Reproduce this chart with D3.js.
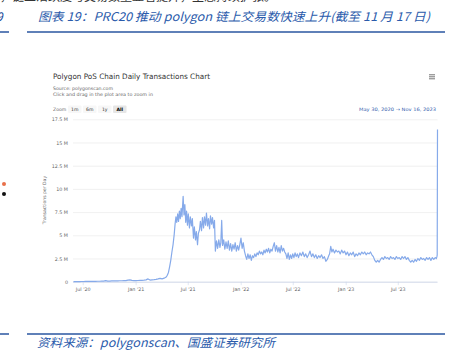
<!DOCTYPE html>
<html><head><meta charset="utf-8">
<script src="https://cdn.jsdelivr.net/npm/d3@7"></script>
<style>html,body{margin:0;padding:0;background:#fff;} svg{display:block}</style>
</head><body><svg id="c" width="451" height="357"></svg>
<script>
// ---------- data ----------
const dates = [
"2020-05-30","2020-06-06","2020-06-13","2020-06-20","2020-06-27","2020-07-04","2020-07-11","2020-07-18","2020-07-25",
"2020-08-01","2020-08-08","2020-08-15","2020-08-22","2020-08-29","2020-09-05","2020-09-12","2020-09-19","2020-09-26",
"2020-10-03","2020-10-10","2020-10-17","2020-10-24","2020-10-31","2020-11-07","2020-11-14","2020-11-21","2020-11-28",
"2020-12-05","2020-12-12","2020-12-19","2020-12-26",
"2021-01-02","2021-01-09","2021-01-16","2021-01-23","2021-01-30","2021-02-06","2021-02-13","2021-02-20","2021-02-27",
"2021-03-06","2021-03-13","2021-03-20","2021-03-27","2021-04-03","2021-04-10","2021-04-17","2021-04-21","2021-04-25",
"2021-04-29","2021-05-03","2021-05-07","2021-05-11","2021-05-15","2021-05-18","2021-05-21","2021-05-24","2021-05-27",
"2021-05-30","2021-06-02","2021-06-05","2021-06-08","2021-06-11","2021-06-15","2021-06-18","2021-06-21","2021-06-24",
"2021-06-27","2021-06-30","2021-07-03","2021-07-07","2021-07-10","2021-07-14","2021-07-17","2021-07-21","2021-07-24",
"2021-07-28","2021-07-31","2021-08-04","2021-08-07","2021-08-11","2021-08-14","2021-08-18","2021-08-21","2021-08-25",
"2021-08-28","2021-09-01","2021-09-04","2021-09-08","2021-09-11","2021-09-15","2021-09-18","2021-09-22","2021-09-25",
"2021-09-29","2021-10-02","2021-10-05","2021-10-09","2021-10-13","2021-10-17","2021-10-21","2021-10-24","2021-10-27",
"2021-10-30","2021-11-03","2021-11-07","2021-11-11","2021-11-15","2021-11-19","2021-11-23","2021-11-27","2021-12-01",
"2021-12-05","2021-12-09","2021-12-13","2021-12-17","2021-12-21","2021-12-25","2021-12-29",
"2022-01-02","2022-01-06","2022-01-10","2022-01-14","2022-01-18","2022-01-22","2022-01-26","2022-01-30","2022-02-03",
"2022-02-07","2022-02-11","2022-02-15","2022-02-19","2022-02-23","2022-02-27","2022-03-03","2022-03-07","2022-03-11",
"2022-03-15","2022-03-19","2022-03-23","2022-03-27","2022-03-31","2022-04-04","2022-04-08","2022-04-12","2022-04-16",
"2022-04-20","2022-04-24","2022-04-28","2022-05-02","2022-05-06","2022-05-10","2022-05-14","2022-05-18","2022-05-22",
"2022-05-26","2022-05-30","2022-06-03","2022-06-07","2022-06-11","2022-06-15","2022-06-19","2022-06-23","2022-06-27",
"2022-07-01","2022-07-05","2022-07-09","2022-07-13","2022-07-17","2022-07-21","2022-07-26","2022-07-31","2022-08-05",
"2022-08-10","2022-08-15","2022-08-20","2022-08-25","2022-08-30","2022-09-04","2022-09-09","2022-09-14","2022-09-19",
"2022-09-24","2022-09-29","2022-10-04","2022-10-09","2022-10-14","2022-10-19","2022-10-24","2022-10-29","2022-11-03",
"2022-11-06","2022-11-10","2022-11-14","2022-11-18","2022-11-23","2022-11-28","2022-12-03","2022-12-08","2022-12-13",
"2022-12-18","2022-12-23","2022-12-28",
"2023-01-02","2023-01-07","2023-01-12","2023-01-17","2023-01-22","2023-01-27","2023-02-01","2023-02-06","2023-02-11",
"2023-02-16","2023-02-21","2023-02-26","2023-03-03","2023-03-08","2023-03-13","2023-03-18","2023-03-23","2023-03-28",
"2023-04-02","2023-04-07","2023-04-12","2023-04-17","2023-04-22","2023-04-27","2023-05-02","2023-05-07","2023-05-12",
"2023-05-17","2023-05-22","2023-05-27","2023-06-01","2023-06-06","2023-06-11","2023-06-16","2023-06-21","2023-06-26",
"2023-07-01","2023-07-06","2023-07-11","2023-07-16","2023-07-21","2023-07-26","2023-07-31","2023-08-05","2023-08-10",
"2023-08-15","2023-08-20","2023-08-25","2023-08-30","2023-09-04","2023-09-09","2023-09-14","2023-09-19","2023-09-24",
"2023-09-29","2023-10-04","2023-10-09","2023-10-14","2023-10-19","2023-10-24","2023-10-29","2023-11-03","2023-11-08",
"2023-11-12","2023-11-14","2023-11-15","2023-11-16"
];
// daily transactions, millions
const values = [
0.005,0.01,0.01,0.015,0.02,0.02,0.025,0.03,0.03,
0.035,0.04,0.04,0.05,0.05,0.06,0.07,0.12,0.06,
0.07,0.08,0.08,0.09,0.09,0.1,0.1,0.11,0.12,
0.17,0.19,0.14,0.12,
0.12,0.13,0.15,0.14,0.16,0.2,0.3,0.18,0.2,
0.22,0.25,0.3,0.36,0.3,0.38,0.5,0.7,1.0,
1.6,2.3,3.2,4.0,5.1,6.2,7.0,6.4,7.3,
6.5,7.6,6.8,7.9,7.0,9.2,7.2,8.3,6.4,
7.6,6.1,7.3,5.8,7.0,6.0,6.8,4.7,5.9,
4.5,5.4,4.0,5.2,5.6,6.5,5.5,6.9,5.8,
7.0,6.1,7.4,6.0,6.8,5.7,7.1,6.2,6.9,
5.8,6.6,3.3,4.4,3.6,4.5,3.7,4.2,6.6,
3.9,4.5,3.5,4.3,3.6,4.4,3.4,4.1,3.3,
4.0,3.5,4.2,3.3,3.9,3.4,4.0,
4.7,3.6,4.2,3.3,2.8,2.4,3.0,2.5,2.9,
2.3,2.8,2.6,3.0,2.7,3.1,2.9,3.3,3.0,
3.2,2.9,3.4,3.1,3.5,3.2,3.6,3.1,3.5,
3.3,3.8,4.2,3.3,3.9,3.2,3.7,3.1,3.9,
3.3,3.6,3.2,3.0,2.5,3.1,2.4,2.9,2.5,
3.0,2.6,3.1,2.7,3.0,2.6,3.1,2.8,3.2,
2.7,3.0,2.6,2.9,3.3,2.7,3.0,2.6,2.9,
2.5,2.8,2.6,2.9,2.5,2.7,2.2,2.4,2.8,
3.0,3.8,3.2,3.5,3.1,3.4,3.2,3.3,3.0,
3.4,3.1,3.3,
2.9,3.2,2.8,3.1,2.9,3.2,2.7,3.0,2.8,
3.1,2.9,3.2,3.0,3.2,2.9,3.1,3.0,3.2,
2.9,2.7,2.3,2.1,2.3,2.1,2.4,2.6,2.4,
2.7,2.5,2.6,2.4,2.7,2.5,2.6,2.4,2.7,
2.5,2.6,2.4,2.7,2.5,2.7,2.4,2.6,2.3,
2.1,2.3,2.1,2.4,2.2,2.5,2.3,2.6,2.4,
2.5,2.3,2.6,2.4,2.6,2.3,2.6,2.4,2.6,
2.5,2.7,2.9,16.4
];
const yTicks = [0,2.5,5,7.5,10,12.5,15,17.5];
const yTickLabels = ["0","2.5 M","5 M","7.5 M","10 M","12.5 M","15 M","17.5 M"];
const xTicks = ["2020-07-01","2021-01-01","2021-07-01","2022-01-01","2022-07-01","2023-01-01","2023-07-01"];
const xTickLabels = ["Jul '20","Jan '21","Jul '21","Jan '22","Jul '22","Jan '23","Jul '23"];
const zoomButtons = ["1m","6m","1y","All"];
const rangeStart = "2020-05-30", rangeEnd = "2023-11-16";

// ---------- drawing ----------
const svg = d3.select("#c");
const HC = "'DejaVu Sans', Verdana, sans-serif";
const CJK = "'Noto Sans CJK SC', sans-serif";
const parse = d3.utcParse("%Y-%m-%d");
const data = dates.map((d,i)=>({date:parse(d), v:values[i]}));

// report page decorations
svg.append("text").attr("x",0).attr("y",1).attr("font-family",CJK).attr("font-size",12).attr("fill","#333")
  .text("，链上活跃度与交易数量显著提升，生态持续扩张。");
svg.append("text").attr("x",-4).attr("y",21).attr("font-family",CJK).attr("font-size",12)
  .attr("font-style","italic").attr("fill","#1f4e9c").text("9");
svg.append("line").attr("x1",0).attr("x2",9).attr("y1",32).attr("y2",32).attr("stroke","#2a56a0").attr("stroke-width",1.5);
svg.append("line").attr("x1",27).attr("x2",445).attr("y1",32).attr("y2",32).attr("stroke","#2a56a0").attr("stroke-width",1.5);
svg.append("text").attr("x",38).attr("y",21).attr("font-family",CJK).attr("font-size",12)
  .attr("font-style","italic").attr("fill","#2b5bab")
  .attr("textLength",392).attr("lengthAdjust","spacingAndGlyphs")
  .text("图表 19：PRC20 推动 polygon 链上交易数快速上升(截至 11 月 17 日)");
svg.append("line").attr("x1",0).attr("x2",9).attr("y1",334).attr("y2",334).attr("stroke","#2a56a0").attr("stroke-width",1.5);
svg.append("line").attr("x1",27).attr("x2",445).attr("y1",334).attr("y2",334).attr("stroke","#2a56a0").attr("stroke-width",1.5);
svg.append("text").attr("x",37).attr("y",347).attr("font-family",CJK).attr("font-size",12)
  .attr("font-style","italic").attr("fill","#2b5bab")
  .attr("textLength",238).attr("lengthAdjust","spacingAndGlyphs")
  .text("资料来源：polygonscan、国盛证券研究所");
svg.append("circle").attr("cx",4).attr("cy",184).attr("r",2).attr("fill","#e8704a");
svg.append("circle").attr("cx",4).attr("cy",194).attr("r",2).attr("fill","#111");

// chart header
svg.append("text").attr("x",53).attr("y",79).attr("font-family",HC).attr("font-size",7.5).attr("fill","#333")
  .attr("textLength",157).attr("lengthAdjust","spacingAndGlyphs").text("Polygon PoS Chain Daily Transactions Chart");
svg.append("text").attr("x",53).attr("y",90).attr("font-family",HC).attr("font-size",4.6).attr("fill","#666")
  .attr("textLength",60).attr("lengthAdjust","spacingAndGlyphs").text("Source: polygonscan.com");
svg.append("text").attr("x",53).attr("y",95.5).attr("font-family",HC).attr("font-size",4.6).attr("fill","#666")
  .attr("textLength",100).attr("lengthAdjust","spacingAndGlyphs").text("Click and drag in the plot area to zoom in");
[74.8,76.8,78.8].forEach(y=>svg.append("line").attr("x1",429).attr("x2",435).attr("y1",y).attr("y2",y)
  .attr("stroke","#666").attr("stroke-width",0.9));

// zoom buttons
svg.append("text").attr("x",53).attr("y",111).attr("font-family",HC).attr("font-size",4.6).attr("fill","#666").text("Zoom");
const bx = d3.scalePoint().domain(zoomButtons).range([68,113]);
zoomButtons.forEach(b=>{
  const sel = b==="All";
  svg.append("rect").attr("x",bx(b)).attr("y",105.5).attr("width",13.5).attr("height",7.5).attr("rx",1)
    .attr("fill", sel ? "#e6e6e6" : "#f7f7f7");
  svg.append("text").attr("x",bx(b)+6.75).attr("y",110.8).attr("text-anchor","middle").attr("font-family",HC)
    .attr("font-size",4.6).attr("font-weight",sel?"bold":"normal").attr("fill",sel?"#000":"#333").text(b);
});
const fmt = d3.utcFormat("%b %-d, %Y");
svg.append("text").attr("x",436).attr("y",111).attr("text-anchor","end").attr("font-family",HC).attr("font-size",4.6)
  .attr("fill","#335cad").attr("textLength",77).attr("lengthAdjust","spacingAndGlyphs")
  .text(fmt(parse(rangeStart))+"  \u2192  "+fmt(parse(rangeEnd)));

// scales
const x = d3.scaleTime().domain([parse(rangeStart), parse(rangeEnd)]).range([73.5,437.5]);
const y = d3.scaleLinear().domain([0,17.5]).range([281.7,119.3]);

// grid + y axis
const gy = svg.append("g").attr("transform","translate(73,0)")
  .call(d3.axisLeft(y).tickValues(yTicks).tickSize(-364.5).tickPadding(5)
    .tickFormat((d,i)=>yTickLabels[i]));
gy.select(".domain").remove();
gy.selectAll(".tick line").attr("stroke","#e6e6e6").attr("stroke-width",0.6);
gy.selectAll(".tick text").attr("font-family",HC).attr("font-size",4.8).attr("fill","#666");
svg.append("text").attr("transform","translate(46,200) rotate(-90)").attr("text-anchor","middle")
  .attr("font-family",HC).attr("font-size",4.6).attr("fill","#666").text("Transactions per Day");

// x axis
const gx = svg.append("g").attr("transform","translate(0,281.7)")
  .call(d3.axisBottom(x).tickValues(xTicks.map(parse)).tickSize(3.5).tickPadding(2.5)
    .tickFormat((d,i)=>xTickLabels[i]));
gx.select(".domain").attr("d","M73,0.5H437.5").attr("stroke","#ccd6eb").attr("stroke-width",0.8);
gx.selectAll(".tick line").attr("stroke","#ccd6eb").attr("stroke-width",0.6);
gx.selectAll(".tick text").attr("font-family",HC).attr("font-size",4.8).attr("fill","#666");

// series
svg.append("path").datum(data)
  .attr("d", d3.line().x(d=>x(d.date)).y(d=>y(d.v)))
  .attr("fill","none").attr("stroke","#86aaea").attr("stroke-width",1.2).attr("stroke-linejoin","round");
</script>
</body></html>
